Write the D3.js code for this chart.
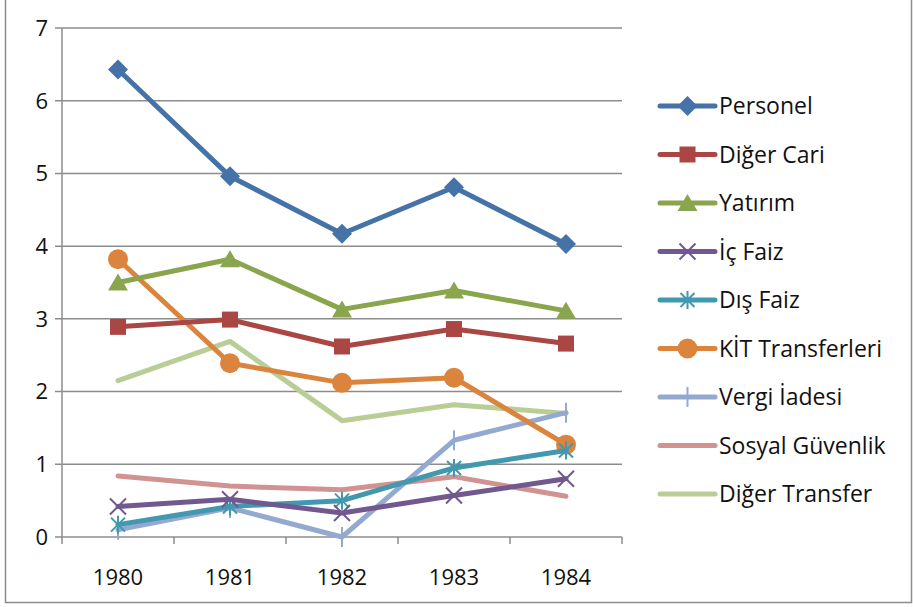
<!DOCTYPE html>
<html>
<head>
<meta charset="utf-8">
<script src="https://cdn.jsdelivr.net/npm/d3@7"></script>
<style>
  body { margin: 0; background: #fff; }
  svg { display: block; font-family: "Open Sans", "Noto Sans", sans-serif; }
</style>
</head>
<body>
<div id="chart"></div>
<script>
const years = ["1980", "1981", "1982", "1983", "1984"];
const yTicks = [0, 1, 2, 3, 4, 5, 6, 7];

const personel = [6.43, 4.96, 4.17, 4.81, 4.03];
const digerCari = [2.89, 2.99, 2.62, 2.86, 2.66];
const yatirim = [3.5, 3.82, 3.13, 3.39, 3.11];
const icFaiz = [0.42, 0.52, 0.33, 0.57, 0.8];
const disFaiz = [0.17, 0.42, 0.5, 0.95, 1.19];
const kitTransfer = [3.82, 2.39, 2.12, 2.19, 1.27];
const vergiIadesi = [0.1, 0.4, 0.0, 1.33, 1.71];
const sosyalGuvenlik = [0.84, 0.7, 0.65, 0.83, 0.56];
const digerTransfer = [2.15, 2.69, 1.6, 1.82, 1.7];

const seriesNames = ["Personel", "Diğer Cari", "Yatırım", "İç Faiz", "Dış Faiz",
  "KİT Transferleri", "Vergi İadesi", "Sosyal Güvenlik", "Diğer Transfer"];
const seriesValues = [personel, digerCari, yatirim, icFaiz, disFaiz,
  kitTransfer, vergiIadesi, sosyalGuvenlik, digerTransfer];
const colors = ["#4572a7", "#aa4643", "#89a54e", "#71588f", "#4198af",
  "#db843d", "#93a9cf", "#d19392", "#b9cd96"];
const markers = ["diamond", "square", "triangle", "x", "star", "circle", "plus", "none", "none"];

const width = 913;
const height = 607;
const margin = { top: 28, right: 291, bottom: 70, left: 62 };
const plotW = width - margin.left - margin.right;
const plotH = height - margin.top - margin.bottom;

const svg = d3.select("#chart")
  .append("svg")
  .attr("width", width)
  .attr("height", height);

// outer chart border
svg.append("rect")
  .attr("x", 5.5).attr("y", -2)
  .attr("width", 906).attr("height", 604.5)
  .attr("fill", "none")
  .attr("stroke", "#8c8c8c")
  .attr("stroke-width", 1.5);

const g = svg.append("g")
  .attr("transform", `translate(${margin.left}, ${margin.top})`);

const x = d3.scaleBand().domain(years).range([0, plotW]);
const y = d3.scaleLinear().domain([0, 7]).range([plotH, 0]);

// gridlines
g.append("g")
  .selectAll("line")
  .data(yTicks)
  .join("line")
  .attr("x1", -7).attr("x2", plotW)
  .attr("y1", d => y(d)).attr("y2", d => y(d))
  .attr("stroke", "#8c8c8c")
  .attr("stroke-width", 1.5);

// y axis line
g.append("line")
  .attr("x1", 0).attr("x2", 0)
  .attr("y1", 0).attr("y2", plotH)
  .attr("stroke", "#8c8c8c").attr("stroke-width", 1.5);

// x tick marks at band edges
g.append("g")
  .selectAll("line")
  .data(years.concat(["end"]))
  .join("line")
  .attr("x1", (d, i) => i * x.bandwidth())
  .attr("x2", (d, i) => i * x.bandwidth())
  .attr("y1", plotH).attr("y2", plotH + 7)
  .attr("stroke", "#8c8c8c").attr("stroke-width", 1.5);

g.append("g")
  .selectAll("text")
  .data(yTicks)
  .join("text")
  .attr("x", -14)
  .attr("y", d => y(d))
  .attr("dy", "0.36em")
  .attr("text-anchor", "end")
  .attr("font-size", 22)
  .attr("fill", "#111")
  .text(d => d);

g.append("g")
  .selectAll("text")
  .data(years)
  .join("text")
  .attr("x", d => x(d) + x.bandwidth() / 2)
  .attr("y", plotH + 40)
  .attr("dy", "0.36em")
  .attr("text-anchor", "middle")
  .attr("font-size", 22)
  .attr("fill", "#111")
  .text(d => d);

function drawMarker(sel, type, color) {
  if (type === "diamond") {
    sel.append("path").attr("d", "M0,-10L10,0L0,10L-10,0Z").attr("fill", color);
  } else if (type === "square") {
    sel.append("rect").attr("x", -8).attr("y", -8).attr("width", 16).attr("height", 16).attr("fill", color);
  } else if (type === "triangle") {
    sel.append("path").attr("d", "M0,-9L10,8L-10,8Z").attr("fill", color);
  } else if (type === "circle") {
    sel.append("circle").attr("r", 10).attr("fill", color);
  } else if (type === "x") {
    sel.append("path").attr("d", "M-8,-8L8,8M-8,8L8,-8").attr("stroke", color).attr("stroke-width", 2).attr("fill", "none");
  } else if (type === "star") {
    sel.append("path").attr("d", "M-7,-7L7,7M-7,7L7,-7M0,-9L0,9").attr("stroke", color).attr("stroke-width", 2).attr("fill", "none");
  } else if (type === "plus") {
    sel.append("path").attr("d", "M0,-10L0,10").attr("stroke", color).attr("stroke-width", 2).attr("fill", "none");
  }
}

const line = d3.line()
  .x((d, i) => x(years[i]) + x.bandwidth() / 2)
  .y(d => y(d));

// draw in reverse so Personel is on top
for (let s = seriesValues.length - 1; s >= 0; s--) {
  const vals = seriesValues[s];
  g.append("path")
    .datum(vals)
    .attr("d", line)
    .attr("fill", "none")
    .attr("stroke", colors[s])
    .attr("stroke-width", 5)
    .attr("stroke-linejoin", "round")
    .attr("stroke-linecap", "round");

  vals.forEach((v, i) => {
    const m = g.append("g")
      .attr("transform", `translate(${x(years[i]) + x.bandwidth() / 2}, ${y(v)})`);
    drawMarker(m, markers[s], colors[s]);
  });
}

// legend
const legend = svg.append("g").attr("transform", "translate(660, 106)");
seriesNames.forEach((name, i) => {
  const row = legend.append("g").attr("transform", `translate(0, ${i * 48.5})`);
  row.append("line")
    .attr("x1", 0).attr("x2", 55)
    .attr("stroke", colors[i])
    .attr("stroke-width", 5)
    .attr("stroke-linecap", "round");
  const m = row.append("g").attr("transform", "translate(27.5, 0)");
  drawMarker(m, markers[i], colors[i]);
  row.append("text")
    .attr("x", 59)
    .attr("dy", "0.36em")
    .attr("font-size", 23)
    .attr("fill", "#111")
    .text(name);
});
</script>
</body>
</html>
